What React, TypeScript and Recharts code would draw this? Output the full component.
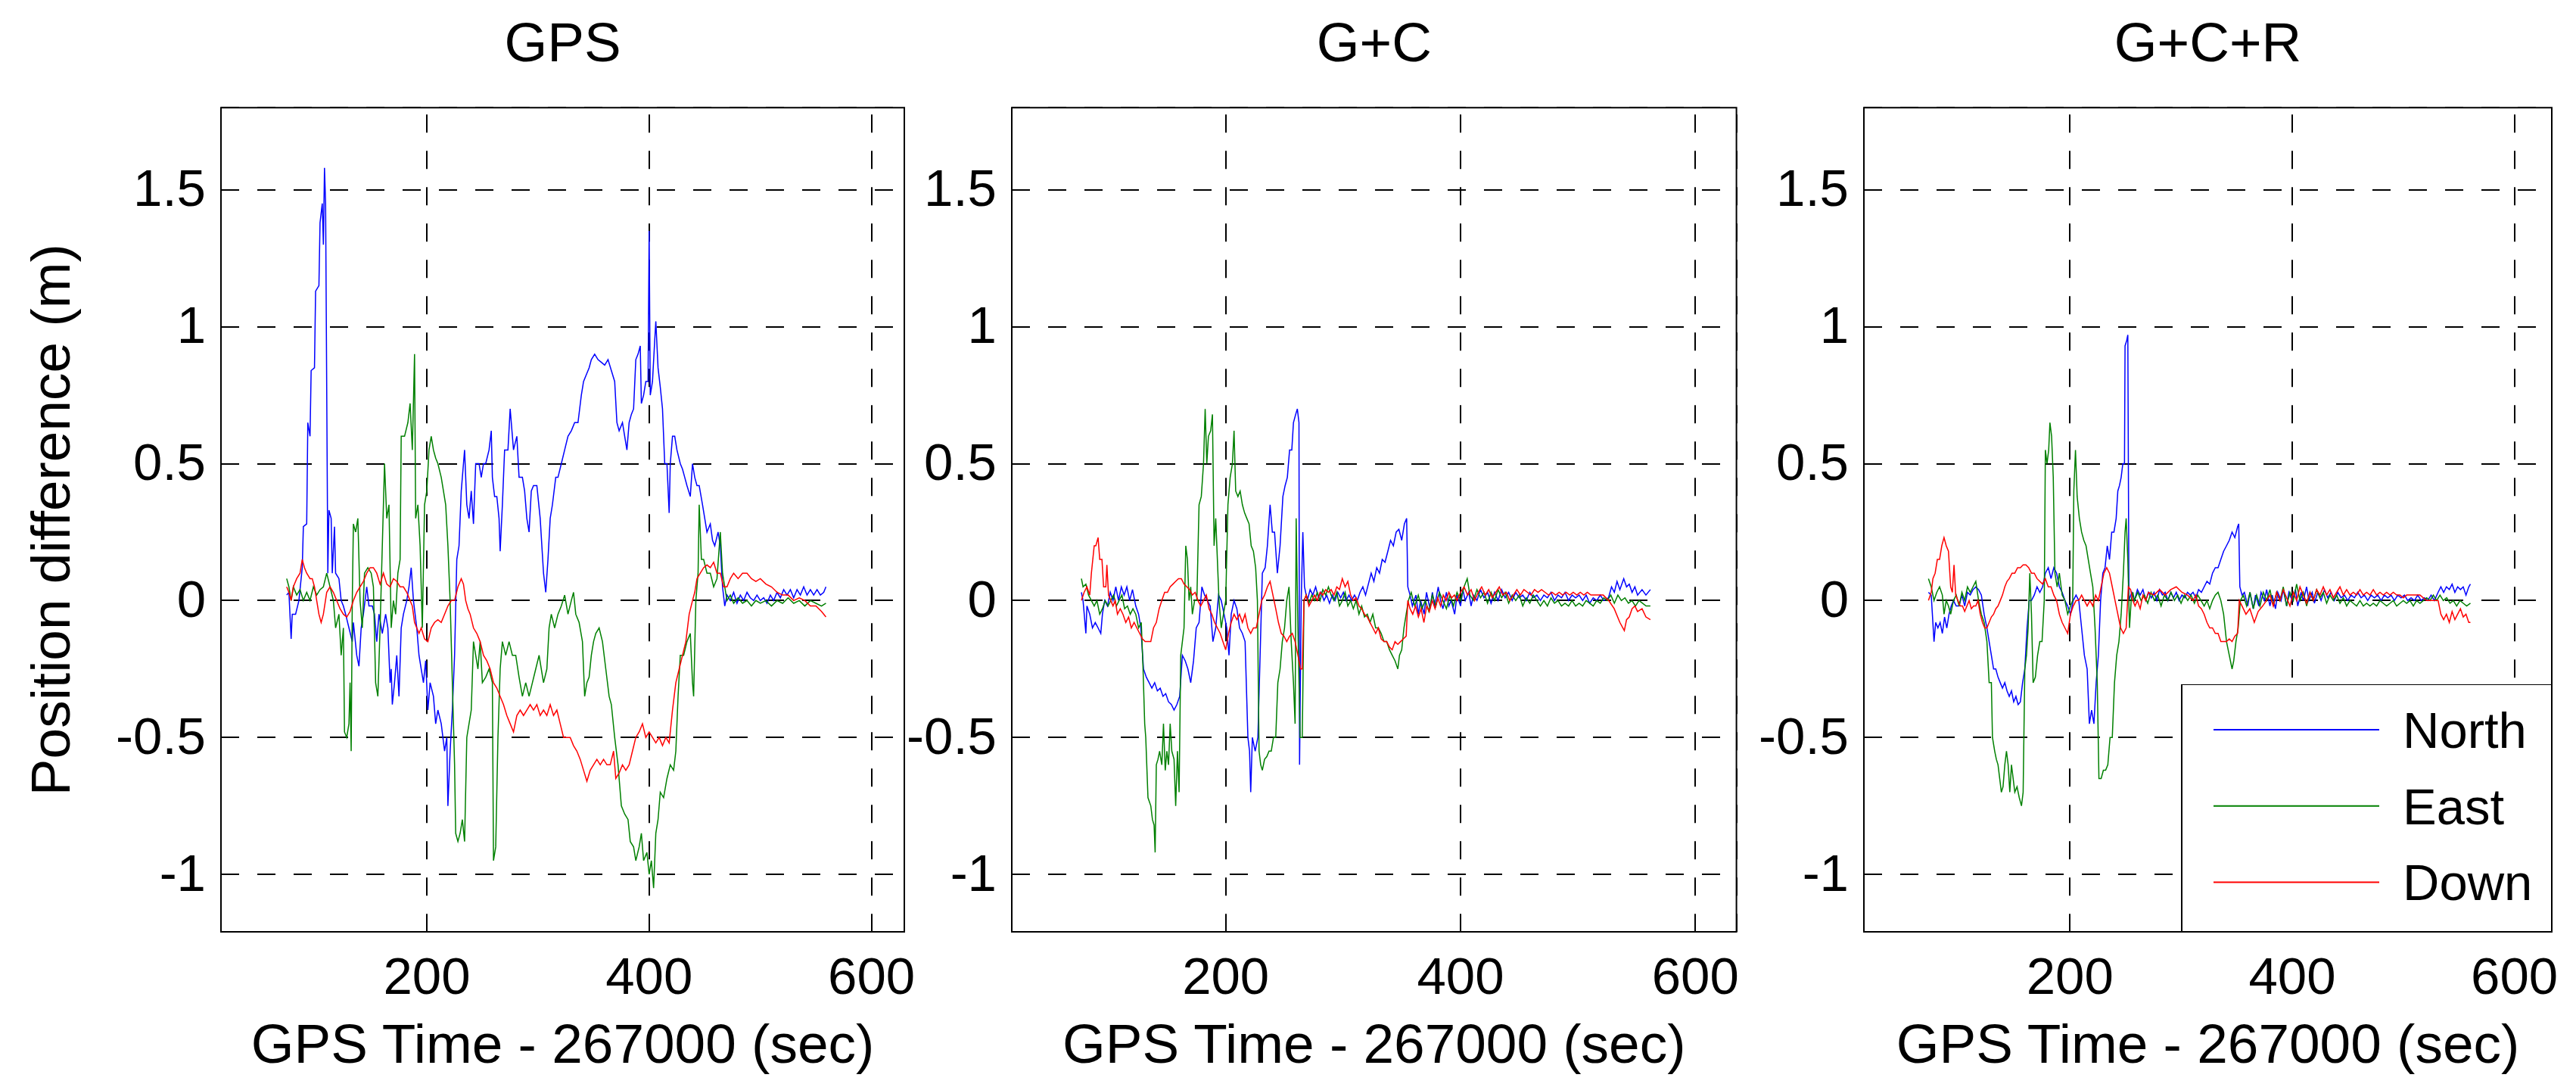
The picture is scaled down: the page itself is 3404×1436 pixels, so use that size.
import React from 'react';
import { CartesianGrid, Label, Legend, Line, LineChart, ReferenceArea, XAxis, YAxis } from 'recharts';

type Pt = [number, number]; // [GPS time - 267000 (s), position difference (m)]

const panelTitles = ['GPS', 'G+C', 'G+C+R'];
const seriesNames = ['North', 'East', 'Down'];
const seriesColors = ['#0000ff', '#008000', '#ff0000'];
const xTicks = [200, 400, 600];
const yTicks = [-1, -0.5, 0, 0.5, 1, 1.5];
const yDomain: [number, number] = [-1.21, 1.8];

// ---- GPS only ----
const gpsNorth: Pt[] = [
  [74,0.02],[76,0.03],[78,-0.14],[79,-0.05],[82,-0.05],[85,0.0],[88,0.12],[89,0.27],[92,0.28],[93,0.65],[95,0.6],[96,0.84],[99,0.85],[100,1.13],[103,1.15],[104,1.38],[106,1.45],[107,1.3],[108,1.58],[109,1.45],[111,0.1],[112,0.33],[114,0.3],[115,0.1],[117,0.27],[118,0.1],[121,0.08],[123,0.0],[125,-0.02],[127,-0.05],[130,-0.1],[133,-0.15],[134,-0.08],[137,-0.2],[139,-0.24],[141,-0.1],[143,-0.05],[146,0.05],[148,-0.02],[151,-0.02],[153,-0.05],[155,-0.15],[157,-0.05],[160,-0.12],[163,-0.05],[165,-0.1],[167,-0.3],[168,-0.25],[169,-0.38],[171,-0.3],[173,-0.2],[175,-0.35],[177,-0.1],[179,-0.05],[182,0.0],[184,0.05],[186,0.12],[188,0.0],[191,-0.1],[193,-0.2],[195,-0.25],[197,-0.3],[199,-0.22],[201,-0.4],[203,-0.3],[206,-0.35],[208,-0.45],[210,-0.4],[213,-0.45],[216,-0.55],[218,-0.5],[219,-0.75],[221,-0.55],[223,-0.4],[225,-0.2],[227,0.15],[229,0.2],[231,0.4],[233,0.5],[234,0.55],[236,0.35],[238,0.3],[240,0.4],[242,0.28],[244,0.5],[247,0.5],[249,0.45],[251,0.5],[253,0.5],[256,0.55],[258,0.62],[259,0.45],[261,0.38],[263,0.38],[265,0.3],[266,0.18],[268,0.35],[270,0.55],[273,0.55],[275,0.7],[276,0.65],[278,0.55],[281,0.6],[283,0.45],[286,0.45],[288,0.4],[290,0.3],[292,0.25],[294,0.4],[296,0.42],[299,0.42],[302,0.3],[305,0.1],[307,0.03],[309,0.15],[311,0.3],[313,0.35],[316,0.45],[318,0.45],[321,0.5],[324,0.55],[327,0.6],[330,0.62],[333,0.65],[336,0.65],[339,0.75],[341,0.8],[343,0.82],[346,0.85],[348,0.88],[351,0.9],[354,0.88],[357,0.87],[360,0.86],[363,0.88],[366,0.84],[369,0.8],[371,0.65],[373,0.62],[376,0.65],[378,0.6],[380,0.55],[382,0.65],[384,0.68],[386,0.7],[388,0.88],[390,0.9],[392,0.93],[393,0.72],[395,0.75],[397,0.8],[399,0.8],[400,1.35],[401,0.75],[403,0.8],[405,0.95],[406,1.02],[408,0.85],[410,0.78],[412,0.7],[414,0.5],[416,0.5],[418,0.32],[419,0.5],[421,0.6],[423,0.6],[425,0.55],[428,0.5],[430,0.48],[432,0.45],[434,0.42],[437,0.38],[439,0.5],[441,0.45],[443,0.42],[445,0.42],[448,0.35],[450,0.3],[452,0.25],[455,0.28],[457,0.22],[459,0.2],[462,0.25],[464,0.2],[466,0.05],[468,-0.02],[470,0.02],[473,0.0],[476,0.03],[479,-0.01],[482,0.02],[485,0.0],[488,0.03],[491,0.01],[494,0.0],[497,0.02],[500,0.0],[503,0.01],[506,-0.01],[509,0.02],[512,0.0],[515,0.03],[518,0.01],[521,0.04],[524,0.02],[527,0.04],[530,0.01],[533,0.04],[536,0.02],[539,0.05],[542,0.02],[545,0.04],[548,0.02],[551,0.04],[554,0.02],[557,0.03],[559,0.05],
];
const gpsEast: Pt[] = [
  [74,0.08],[76,0.05],[78,0.0],[80,0.05],[83,0.02],[86,0.04],[89,0.0],[92,0.03],[95,0.0],[98,0.05],[101,0.02],[104,0.04],[107,0.05],[110,0.1],[113,0.05],[116,0.0],[118,-0.1],[121,-0.05],[123,-0.2],[125,-0.1],[126,-0.48],[128,-0.5],[130,-0.45],[131,-0.3],[132,-0.55],[133,0.0],[134,0.28],[136,0.25],[138,0.3],[140,0.0],[142,-0.1],[144,0.1],[147,0.12],[150,0.1],[152,0.05],[154,-0.3],[156,-0.35],[158,-0.1],[160,0.2],[162,0.5],[164,0.3],[166,0.35],[168,-0.1],[170,0.0],[172,-0.05],[174,0.1],[176,0.15],[177,0.6],[180,0.6],[183,0.65],[185,0.72],[187,0.55],[189,0.9],[190,0.3],[192,0.35],[194,0.2],[196,-0.1],[198,0.35],[200,0.4],[202,0.55],[204,0.6],[206,0.55],[208,0.52],[210,0.5],[213,0.45],[215,0.4],[217,0.35],[219,0.2],[221,0.0],[223,-0.3],[225,-0.6],[226,-0.85],[228,-0.88],[230,-0.85],[232,-0.8],[234,-0.88],[236,-0.5],[238,-0.45],[240,-0.4],[242,-0.15],[244,-0.2],[246,-0.25],[248,-0.15],[250,-0.3],[253,-0.28],[256,-0.25],[259,-0.3],[260,-0.95],[262,-0.9],[264,-0.5],[266,-0.25],[268,-0.15],[271,-0.2],[274,-0.15],[277,-0.2],[280,-0.2],[283,-0.28],[286,-0.35],[289,-0.3],[292,-0.35],[295,-0.3],[298,-0.25],[301,-0.2],[303,-0.25],[305,-0.3],[308,-0.25],[310,-0.1],[312,-0.05],[315,-0.1],[318,-0.05],[321,-0.02],[324,0.02],[327,-0.05],[330,0.0],[332,0.03],[334,-0.05],[337,-0.08],[340,-0.15],[342,-0.35],[344,-0.3],[346,-0.28],[348,-0.2],[350,-0.15],[352,-0.12],[355,-0.1],[358,-0.15],[361,-0.25],[364,-0.35],[366,-0.38],[369,-0.5],[372,-0.6],[375,-0.75],[378,-0.78],[381,-0.8],[383,-0.88],[386,-0.9],[388,-0.95],[391,-0.9],[393,-0.85],[395,-0.95],[398,-0.92],[400,-1.0],[402,-0.95],[404,-1.05],[406,-0.85],[408,-0.8],[410,-0.7],[413,-0.72],[416,-0.65],[419,-0.6],[422,-0.62],[424,-0.55],[426,-0.35],[428,-0.2],[431,-0.2],[434,-0.15],[437,-0.12],[439,-0.3],[440,-0.35],[442,0.0],[444,0.1],[445,0.35],[447,0.15],[449,0.15],[452,0.1],[455,0.1],[458,0.05],[461,0.08],[464,0.25],[466,0.1],[468,0.05],[470,0.0],[473,0.02],[476,-0.01],[480,0.01],[484,-0.01],[488,0.0],[492,-0.02],[496,0.0],[500,-0.01],[505,0.0],[510,-0.02],[515,0.0],[520,-0.01],[525,0.01],[530,-0.01],[535,0.0],[540,-0.02],[545,0.0],[550,-0.01],[555,-0.02],[559,-0.01],
];
const gpsDown: Pt[] = [
  [74,0.05],[76,0.03],[78,0.0],[80,0.05],[83,0.08],[86,0.1],[88,0.15],[90,0.12],[92,0.1],[95,0.08],[97,0.08],[99,0.05],[101,0.0],[103,-0.05],[105,-0.08],[107,-0.05],[110,0.03],[113,0.05],[116,0.03],[119,0.0],[122,-0.03],[125,-0.05],[128,-0.06],[131,-0.04],[134,0.0],[137,0.03],[140,0.05],[143,0.07],[146,0.1],[149,0.12],[152,0.12],[155,0.1],[158,0.06],[161,0.1],[164,0.06],[167,0.05],[170,0.08],[173,0.07],[176,0.05],[179,0.05],[182,0.03],[185,0.0],[187,-0.02],[189,-0.08],[191,-0.1],[193,-0.12],[195,-0.1],[198,-0.14],[201,-0.15],[204,-0.1],[207,-0.08],[210,-0.07],[213,-0.08],[216,-0.05],[219,-0.02],[222,0.0],[225,0.0],[228,0.05],[231,0.08],[233,0.06],[235,0.0],[237,-0.03],[239,-0.05],[242,-0.1],[245,-0.12],[248,-0.15],[251,-0.2],[254,-0.22],[257,-0.25],[260,-0.3],[263,-0.32],[266,-0.35],[269,-0.38],[272,-0.42],[275,-0.45],[278,-0.48],[281,-0.42],[284,-0.4],[287,-0.42],[290,-0.4],[293,-0.38],[296,-0.4],[299,-0.38],[302,-0.42],[305,-0.4],[308,-0.42],[311,-0.38],[314,-0.42],[317,-0.4],[320,-0.45],[323,-0.5],[326,-0.5],[329,-0.5],[332,-0.53],[335,-0.55],[338,-0.58],[341,-0.62],[344,-0.66],[347,-0.62],[350,-0.6],[353,-0.58],[356,-0.6],[359,-0.58],[362,-0.6],[365,-0.6],[368,-0.55],[370,-0.65],[373,-0.63],[376,-0.6],[379,-0.62],[382,-0.6],[385,-0.55],[388,-0.5],[391,-0.48],[394,-0.45],[397,-0.5],[400,-0.48],[403,-0.5],[406,-0.52],[409,-0.5],[412,-0.53],[415,-0.5],[418,-0.52],[421,-0.4],[424,-0.3],[427,-0.25],[430,-0.2],[433,-0.15],[436,-0.05],[439,0.0],[441,0.03],[443,0.08],[446,0.1],[449,0.12],[452,0.13],[455,0.12],[458,0.14],[461,0.1],[464,0.1],[467,0.05],[470,0.05],[473,0.08],[476,0.1],[480,0.08],[484,0.1],[488,0.1],[492,0.08],[496,0.07],[500,0.08],[505,0.06],[510,0.05],[515,0.03],[520,0.02],[525,0.02],[530,0.0],[535,0.01],[540,0.0],[545,-0.02],[550,-0.02],[555,-0.04],[559,-0.06],
];

// ---- GPS + Compass ----
const gcNorth: Pt[] = [
  [77.1,0.03],[78.5,0.0],[80.9,-0.12],[81.8,-0.02],[84.2,-0.05],[86.5,-0.1],[88.9,-0.08],[91.3,-0.1],[93.6,-0.12],[95,-0.05],[96.9,0.0],[99.3,-0.02],[101.7,0.03],[104,0.0],[106.4,0.05],[108.7,0.0],[111.1,0.05],[113.5,0.02],[115.8,0.05],[118.2,0.0],[120.6,0.04],[123.4,-0.02],[125.8,-0.05],[127.7,-0.1],[130,-0.25],[132.4,-0.28],[134.8,-0.3],[137.1,-0.32],[139.5,-0.3],[141.8,-0.33],[144.2,-0.32],[146.6,-0.35],[148.9,-0.34],[151.3,-0.37],[153.7,-0.38],[156,-0.4],[158.4,-0.38],[160.8,-0.35],[163.1,-0.2],[165.5,-0.22],[167.8,-0.25],[170.2,-0.3],[172.6,-0.22],[174.9,-0.1],[177.3,-0.08],[179.7,0.05],[182,0.02],[184.4,0.0],[186.8,-0.02],[189.1,-0.15],[191.5,-0.1],[193.9,0.02],[196.2,0.0],[198.6,-0.05],[200.9,-0.1],[202.8,-0.2],[204.7,-0.05],[207.1,0.0],[209.5,-0.03],[211.8,-0.1],[214.2,-0.12],[216.5,-0.15],[218.9,-0.5],[220.3,-0.55],[221.3,-0.7],[222.7,-0.5],[225.1,-0.55],[227.4,-0.5],[229.3,-0.2],[231.2,0.1],[233.6,0.12],[235.5,0.2],[237.8,0.35],[239.7,0.25],[241.6,0.25],[244,0.1],[246.3,0.2],[248.7,0.38],[250.6,0.42],[252.5,0.45],[254.4,0.55],[256.3,0.55],[257.7,0.65],[259.6,0.68],[261,0.7],[262.4,0.65],[262.9,-0.6],[264.3,0.0],[265.7,0.25],[267.1,0.05],[269.5,0.0],[271.9,0.04],[274.2,0.02],[276.6,0.05],[279,0.01],[281.3,0.03],[283.7,0.0],[286,0.02],[288.4,-0.01],[290.8,0.02],[293.1,0.0],[295.5,0.03],[297.9,0.01],[300.2,0.03],[302.6,0.0],[305,0.02],[307.3,0.0],[309.7,0.02],[312.1,0.0],[314.4,0.03],[316.8,0.05],[319.1,0.02],[321.5,0.06],[323.9,0.1],[326.2,0.07],[328.6,0.12],[331,0.1],[333.3,0.15],[335.7,0.14],[338.1,0.18],[340.4,0.22],[342.8,0.2],[345.2,0.25],[347.5,0.26],[349.9,0.22],[352.2,0.28],[354.1,0.3],[355.1,0.05],[357,0.02],[359,-0.02],[362,0.02],[364,-0.05],[366,0.0],[369,-0.05],[371,0.03],[374,-0.03],[376,0.03],[378,-0.02],[381,0.05],[383,0.0],[385,-0.03],[388,0.03],[390,-0.02],[392,0.0],[395,-0.05],[397,0.02],[400,-0.02],[402,0.04],[404,0.0],[407,0.03],[409,-0.02],[411,0.02],[414,0.0],[417,0.04],[420,0.01],[423,0.03],[426,-0.01],[429,0.03],[432,0.0],[435,0.04],[438,0.01],[441,0.03],[444,0.0],[447,0.03],[450,0.01],[453,0.02],[456,0.0],[459,0.03],[462,0.01],[465,0.02],[468,0.0],[471,0.02],[474,0.01],[477,0.03],[480,0.0],[483,0.02],[486,0.01],[489,0.03],[492,0.0],[495,0.02],[498,0.01],[501,0.02],[504,0.0],[507,0.02],[510,-0.01],[513,0.01],[516,0.0],[519,0.02],[522,0.0],[526,0.01],[528.6,0.05],[531,0.03],[533.3,0.07],[535.7,0.04],[539,0.08],[541.4,0.05],[543.7,0.06],[546.1,0.03],[548.5,0.05],[550.8,0.02],[554.6,0.04],[557.9,0.02],[561.7,0.04],
];
const gcEast: Pt[] = [
  [77.1,0.08],[78.5,0.05],[80.9,0.06],[83.2,0.02],[85.6,0.0],[88,-0.02],[90.3,0.0],[92.7,-0.05],[95,-0.03],[97.4,0.0],[99.8,-0.02],[102.1,0.0],[104.5,0.02],[106.9,-0.02],[109.2,0.0],[111.6,0.02],[113.9,-0.03],[116.3,-0.02],[118.7,-0.05],[121,-0.03],[123.4,-0.05],[125.8,-0.1],[128.1,-0.08],[129.6,-0.25],[131,-0.45],[131.9,-0.5],[133.8,-0.72],[136.2,-0.75],[137.6,-0.8],[139,-0.82],[139.9,-0.92],[140.9,-0.6],[142.3,-0.58],[143.7,-0.55],[145.6,-0.6],[147,-0.45],[148.5,-0.62],[149.9,-0.55],[151.3,-0.6],[152.7,-0.45],[154.1,-0.55],[156,-0.58],[157.4,-0.75],[158.9,-0.55],[160.3,-0.7],[161.7,-0.2],[163.1,-0.15],[164.5,-0.1],[166,0.2],[167.4,0.15],[168.8,0.0],[170.2,0.05],[171.6,-0.05],[173.5,0.0],[175.4,0.0],[177.3,0.35],[179.2,0.38],[181.1,0.5],[182.5,0.7],[183.9,0.5],[185.3,0.6],[187.2,0.62],[188.7,0.68],[190.1,0.2],[191.5,0.3],[192.9,0.15],[194.3,0.0],[196.2,-0.1],[198.1,-0.05],[200,0.0],[201.9,0.35],[203.8,0.45],[205.7,0.5],[207.1,0.62],[208.5,0.4],[210.4,0.38],[212.3,0.4],[214.2,0.35],[216.1,0.32],[218,0.3],[219.9,0.28],[221.7,0.2],[223.6,0.18],[225.5,0.12],[227,0.0],[228.4,-0.55],[229.8,-0.6],[231.2,-0.62],[233.1,-0.58],[235,-0.57],[236.9,-0.55],[238.8,-0.55],[240.7,-0.5],[242.6,-0.5],[244.4,-0.3],[246.3,-0.25],[248.2,-0.15],[250.1,-0.1],[252,0.0],[253.9,0.05],[255.8,-0.15],[257.7,-0.3],[259.1,-0.45],[260,0.3],[261.5,-0.1],[263.4,-0.5],[265.2,-0.5],[266.7,0.0],[268.6,0.02],[270.9,-0.01],[273.3,0.02],[275.7,0.0],[278,0.03],[280.4,0.0],[282.7,0.04],[285.1,0.02],[287.5,0.05],[289.8,0.02],[292.2,0.0],[294.6,0.03],[296.9,-0.02],[299.3,0.0],[301.7,0.03],[304,-0.02],[306.4,0.0],[308.7,-0.03],[311.1,0.0],[313.5,-0.05],[315.8,-0.02],[318.2,-0.06],[320.6,-0.05],[322.9,-0.08],[325.3,-0.05],[327.7,-0.1],[330,-0.1],[332.4,-0.12],[334.8,-0.15],[337.1,-0.15],[339.5,-0.18],[341.8,-0.2],[344.2,-0.22],[346.6,-0.25],[348,-0.2],[349.9,-0.18],[351.8,-0.1],[353.7,-0.05],[355.6,0.0],[358,0.03],[361,-0.02],[364,0.02],[367,-0.03],[370,0.0],[373,-0.04],[376,0.02],[379,-0.02],[382,0.03],[385,0.0],[388,-0.03],[391,0.02],[394,-0.02],[397,0.03],[400,0.0],[403,0.05],[405.7,0.08],[408,0.02],[411,0.0],[414,0.04],[417,0.01],[420,0.03],[423,-0.01],[426,0.03],[429,0.0],[432,0.04],[435,0.01],[438,0.03],[441,-0.01],[444,0.02],[447,0.0],[450,0.02],[453,-0.02],[456,0.01],[459,-0.01],[462,0.02],[465,0.0],[468,-0.02],[471,0.0],[474,-0.02],[477,0.01],[480,-0.01],[483,0.0],[486,-0.02],[489,-0.01],[492,-0.02],[495,0.0],[498,-0.02],[501,-0.01],[504,-0.02],[507,0.0],[510,-0.01],[513,-0.02],[516,0.0],[519,-0.01],[522,0.01],[525,0.0],[528,0.02],[531,-0.01],[534,0.02],[537,0.0],[540,0.01],[543,-0.01],[546,0.0],[549,-0.02],[552,0.0],[555,-0.01],[558,-0.02],[561.7,-0.02],
];
const gcDown: Pt[] = [
  [77.1,0.0],[79.4,0.03],[81.8,0.05],[84.2,0.02],[85.6,0.1],[88,0.2],[89.4,0.2],[91.3,0.23],[92.7,0.15],[94.6,0.15],[96,0.05],[97.9,0.05],[98.8,0.13],[100.2,0.02],[102.1,0.0],[104,-0.02],[105.9,0.0],[107.8,-0.05],[110.2,-0.03],[112.5,-0.05],[114.9,-0.08],[117.3,-0.06],[119.6,-0.1],[122,-0.08],[124.3,-0.1],[126.7,-0.12],[129.1,-0.14],[131.4,-0.15],[133.8,-0.15],[136.2,-0.15],[138.5,-0.1],[140.9,-0.08],[143.3,-0.03],[145.6,0.0],[148,0.03],[150.4,0.03],[152.7,0.05],[155.1,0.06],[157.4,0.07],[159.8,0.08],[162.2,0.08],[164.5,0.06],[166.9,0.05],[169.3,0.04],[171.6,0.02],[174,0.03],[176.4,0.0],[178.7,-0.02],[181.1,0.0],[183.5,0.02],[185.8,-0.03],[188.2,-0.05],[190.5,-0.08],[192.9,-0.1],[195.3,-0.12],[197.6,-0.15],[200,-0.18],[202.4,-0.12],[204.7,-0.08],[207.1,-0.05],[209.5,-0.07],[211.8,-0.05],[214.2,-0.08],[216.5,-0.05],[218.9,-0.1],[221.3,-0.12],[223.6,-0.1],[226,-0.1],[228.4,-0.05],[230.7,0.0],[233.1,0.02],[235.5,0.05],[237.8,0.07],[240.2,0.02],[242.6,-0.03],[244.9,-0.08],[247.3,-0.12],[249.6,-0.13],[252,-0.15],[254.4,-0.13],[256.7,-0.12],[259.1,-0.15],[261.5,-0.2],[263.8,-0.25],[265.2,-0.25],[266.7,0.0],[268.6,0.02],[270.9,-0.02],[273.3,0.0],[275.7,0.02],[278,0.0],[280.4,0.03],[282.7,0.02],[285.1,0.04],[287.5,0.03],[289.8,0.04],[292.2,0.02],[294.6,0.05],[296.9,0.04],[299.3,0.08],[301.7,0.05],[304,0.07],[306.4,0.02],[308.7,0.0],[311.1,0.01],[313.5,-0.02],[315.8,-0.03],[318.2,-0.05],[320.6,-0.06],[322.9,-0.08],[325.3,-0.1],[327.7,-0.12],[330,-0.1],[332.4,-0.14],[334.8,-0.15],[337.1,-0.15],[339.5,-0.17],[341.8,-0.18],[344.2,-0.15],[346.6,-0.16],[348.9,-0.15],[351.3,-0.14],[353.7,-0.13],[355.1,0.0],[357,-0.03],[359.3,-0.05],[361.7,-0.02],[364.1,-0.06],[366.4,-0.03],[368.8,-0.08],[371.2,-0.02],[373.5,-0.04],[375.9,0.0],[378.3,-0.03],[380.6,0.01],[383,-0.02],[385.3,0.02],[387.7,0.0],[390.1,0.03],[392.4,0.01],[394.8,0.02],[397,0.0],[400,0.03],[403,0.05],[406,0.02],[409,0.04],[412,0.0],[415,0.03],[418,0.05],[421,0.02],[424,0.04],[427,0.01],[430,0.03],[433,0.05],[436,0.02],[439,0.03],[442,0.0],[445,0.02],[448,0.04],[451,0.02],[454,0.04],[457,0.03],[460,0.02],[463,0.04],[466,0.03],[469,0.04],[472,0.03],[475,0.02],[478,0.03],[481,0.02],[484,0.03],[487,0.02],[490,0.03],[493,0.02],[496,0.03],[499,0.02],[502,0.03],[505,0.02],[508,0.03],[511,0.02],[514,0.02],[517,0.02],[521.5,0.02],[526.2,0.0],[530.9,-0.03],[535.7,-0.08],[539.5,-0.11],[541.4,-0.07],[543.7,-0.06],[546.1,-0.03],[548.5,-0.02],[550.8,-0.04],[554.6,-0.03],[557.9,-0.06],[561.7,-0.07],
];

// ---- GPS + Compass + GLONASS ----
const gcrNorth: Pt[] = [
  [72.7,0.03],[75.2,0.02],[77.7,-0.15],[79.2,-0.08],[81.2,-0.1],[83.2,-0.08],[85.2,-0.12],[87.2,-0.06],[89.2,-0.1],[91.2,-0.05],[93.2,-0.02],[95.2,0.0],[97.7,-0.02],[100.3,-0.02],[102.8,0.02],[105.3,-0.02],[107.8,0.03],[110.3,0.02],[112.8,0.04],[115.3,0.05],[117.8,0.04],[120.3,0.02],[122.8,-0.05],[125.3,-0.1],[127.3,-0.15],[129.3,-0.2],[131.3,-0.25],[133.3,-0.25],[135.3,-0.28],[137.3,-0.3],[139.3,-0.32],[141.4,-0.3],[143.4,-0.33],[145.4,-0.35],[147.4,-0.33],[149.4,-0.37],[151.4,-0.35],[153.4,-0.38],[155.4,-0.37],[157.4,-0.3],[159.4,-0.25],[161.4,-0.1],[163.4,0.0],[165.4,0.0],[167.9,0.02],[170.4,0.05],[172.9,0.03],[175.4,0.05],[177.9,0.1],[180.5,0.12],[183,0.08],[185.5,0.12],[188,0.1],[190.5,0.05],[193,0.03],[195.5,0.0],[198,-0.02],[200.5,-0.05],[203,0.0],[205.5,0.02],[208,0.0],[210.5,-0.1],[213,-0.2],[215.5,-0.25],[217.5,-0.45],[219.5,-0.4],[221.6,-0.45],[223.6,-0.3],[225.6,-0.2],[227.6,0.0],[229.6,0.1],[231.6,0.12],[233.6,0.2],[235.6,0.15],[237.6,0.25],[239.6,0.25],[241.6,0.3],[243.1,0.4],[244.6,0.42],[246.1,0.45],[247.6,0.5],[249.1,0.5],[249.6,0.93],[251.1,0.95],[252.1,0.97],[253.1,0.0],[255.6,0.03],[258.1,0.0],[260.7,0.04],[263.2,0.02],[265.7,0.04],[268.2,0.0],[270.7,0.03],[273.2,0.01],[275.7,0.03],[278.2,0.0],[280.7,0.04],[283.2,0.02],[285.7,0.03],[288.2,0.0],[290.7,0.03],[293.2,0.01],[295.7,0.03],[298.2,0.0],[300.8,0.02],[303.3,0.01],[305.8,0.03],[308.3,0.02],[310.8,0.03],[313.3,0.01],[315.8,0.04],[318.3,0.03],[320.8,0.05],[323.3,0.07],[325.8,0.06],[328.3,0.1],[330.8,0.12],[333.3,0.12],[335.8,0.15],[338.3,0.18],[340.9,0.2],[343.4,0.22],[345.9,0.25],[348.4,0.23],[350.9,0.27],[351.9,0.28],[352.9,0.05],[354.9,0.02],[357,0.03],[360,-0.02],[362,0.03],[365,-0.03],[367,0.02],[370,-0.02],[372,0.03],[375,0.0],[377,0.04],[380,-0.02],[382,0.02],[385,-0.03],[387,0.03],[390,0.0],[392,0.04],[395,-0.02],[397,0.03],[400,0.0],[403,0.04],[405,-0.02],[408,0.03],[410,0.0],[413,0.05],[415,0.0],[418,0.03],[420,-0.01],[423,0.03],[426,0.0],[429,0.04],[432,0.01],[435,0.03],[438,0.0],[441,0.03],[444,0.01],[447,0.02],[450,0.0],[453,0.02],[456,0.01],[459,0.03],[462,0.01],[465,0.02],[468,0.0],[471,0.02],[474,0.01],[477,0.02],[480,0.0],[483,0.02],[486,0.01],[489,0.02],[492,0.0],[495,0.02],[498,0.01],[501,0.02],[504,0.0],[507,0.01],[510,0.0],[513,0.02],[516,0.0],[519,0.01],[522,0.0],[525,0.02],[528,0.0],[531.3,0.03],[533.8,0.05],[536.3,0.03],[538.8,0.05],[541.4,0.04],[543.9,0.06],[546.4,0.03],[548.9,0.05],[551.4,0.04],[553.9,0.05],[556.4,0.02],[558.9,0.05],[560.4,0.06],
];
const gcrEast: Pt[] = [
  [72.7,0.08],[75.2,0.05],[77.7,0.0],[80.2,0.03],[82.7,0.05],[85.2,0.02],[86.7,-0.05],[88.7,0.0],[90.7,-0.02],[92.7,-0.05],[95.2,0.0],[97.7,0.02],[100.3,-0.02],[102.8,0.03],[105.3,0.0],[107.8,0.05],[110.3,0.03],[112.8,0.05],[115.3,0.07],[117.8,0.0],[120.3,-0.05],[122.8,-0.08],[125.3,-0.15],[127.3,-0.3],[129.3,-0.3],[130.3,-0.5],[132.3,-0.55],[133.8,-0.58],[135.3,-0.6],[136.8,-0.65],[138.3,-0.7],[139.8,-0.68],[141.4,-0.6],[142.9,-0.55],[144.4,-0.6],[145.9,-0.7],[147.4,-0.6],[148.9,-0.65],[150.4,-0.7],[152.4,-0.68],[154.4,-0.72],[156.4,-0.75],[157.9,-0.7],[159.4,-0.25],[160.9,-0.2],[162.4,-0.1],[163.9,0.1],[165.4,-0.05],[166.9,-0.3],[168.9,-0.28],[170.9,-0.2],[172.9,-0.15],[174.9,-0.15],[176.9,0.0],[177.9,0.55],[179.4,0.5],[180.9,0.55],[182,0.65],[183.5,0.6],[185,0.45],[186.5,0.1],[188.5,0.05],[190.5,0.1],[193,0.02],[195.5,0.0],[198,-0.05],[200.5,-0.02],[202.5,0.0],[203.5,0.4],[205,0.55],[206.5,0.38],[208.5,0.3],[210.5,0.25],[212.5,0.22],[214.5,0.2],[216.5,0.15],[218.5,0.1],[220.6,0.05],[222.6,-0.1],[224.6,-0.3],[226.1,-0.65],[228.1,-0.65],[230.1,-0.62],[232.1,-0.62],[234.1,-0.6],[236.1,-0.5],[238.1,-0.5],[240.1,-0.3],[242.1,-0.2],[244.1,-0.15],[246.1,-0.05],[248.1,0.1],[249.6,0.25],[250.6,0.3],[252.1,0.15],[253.6,-0.1],[255.1,0.0],[256.6,0.03],[258,0.0],[261,0.03],[264,0.0],[267,0.02],[270,-0.01],[273,0.03],[276,0.0],[279,0.02],[282,-0.02],[285,0.02],[288,0.0],[291,0.03],[294,0.0],[297,0.02],[300,-0.01],[303,0.02],[306,0.0],[309,0.02],[312,-0.01],[315,0.02],[318,0.0],[320.8,-0.02],[323.3,0.0],[325.8,-0.03],[328.3,0.0],[330.8,0.02],[333.3,0.03],[335.8,0.0],[338.3,-0.05],[340.9,-0.15],[343.4,-0.2],[345.9,-0.25],[347.4,-0.22],[349.4,-0.15],[351.4,-0.1],[353.4,0.0],[356,0.02],[359,-0.02],[362,0.03],[365,-0.03],[368,0.02],[371,-0.02],[374,0.03],[377,0.0],[380,0.04],[383,-0.02],[386,0.03],[389,0.0],[392,0.05],[395,-0.02],[398,0.03],[401,0.0],[404,0.06],[407,0.0],[410,0.03],[413,-0.02],[416,0.03],[419,0.0],[422,0.04],[425,0.01],[428,0.03],[431,-0.01],[434,0.02],[437,0.0],[440,0.02],[443,-0.01],[446,0.01],[449,-0.02],[452,0.0],[455,-0.01],[458,-0.02],[461,0.0],[464,-0.02],[467,-0.01],[470,-0.02],[473,-0.01],[476,-0.02],[479,0.0],[482,-0.01],[485,-0.02],[488,-0.01],[491,0.0],[494,-0.02],[497,-0.01],[500,0.0],[503,-0.01],[506,0.0],[509,-0.02],[512,0.0],[515,-0.01],[518,0.0],[521,0.01],[524,0.0],[527,0.02],[530,0.0],[533,0.02],[536,0.0],[539,0.01],[542,-0.01],[545,0.0],[548,-0.02],[551,0.0],[554,-0.01],[557,-0.02],[560.4,-0.01],
];
const gcrDown: Pt[] = [
  [72.7,0.0],[75.2,0.03],[76.7,0.08],[78.7,0.1],[80.7,0.15],[82.7,0.15],[84.7,0.2],[86.7,0.23],[88.7,0.2],[90.7,0.18],[92.7,0.05],[94.2,0.03],[95.7,0.13],[97.2,0.02],[99.2,0.0],[101.3,-0.02],[103.3,-0.02],[105.3,-0.04],[107.3,-0.02],[109.3,0.0],[111.3,-0.03],[113.3,-0.02],[115.3,-0.02],[117.3,0.0],[119.3,-0.05],[121.3,-0.08],[123.3,-0.1],[125.3,-0.1],[127.3,-0.08],[129.3,-0.06],[131.3,-0.05],[133.3,-0.03],[135.3,-0.02],[137.3,0.0],[139.3,0.02],[141.4,0.05],[143.4,0.07],[145.4,0.08],[147.9,0.1],[150.4,0.1],[152.9,0.12],[155.4,0.12],[157.9,0.13],[160.4,0.13],[162.9,0.12],[165.4,0.1],[167.9,0.1],[170.4,0.08],[172.9,0.07],[175.4,0.06],[177.9,0.08],[180.5,0.05],[183,0.05],[185.5,0.02],[188,0.0],[190.5,-0.05],[193,-0.08],[195.5,-0.1],[198,-0.12],[200.5,-0.05],[203,-0.02],[205.5,0.0],[208,0.0],[210.5,0.02],[213,0.0],[215.5,-0.02],[218,0.0],[220.6,-0.02],[223.1,0.02],[225.6,0.0],[228.1,0.05],[230.6,0.1],[233.1,0.12],[235.6,0.1],[238.1,0.05],[240.6,0.0],[243.1,-0.05],[245.6,-0.1],[248.1,-0.12],[250.6,-0.1],[252.6,0.05],[254.6,0.04],[256.6,0.0],[258.6,-0.02],[260.7,0.0],[263.2,-0.03],[265.7,0.02],[268.2,0.0],[270.7,0.03],[275.7,0.02],[280.7,0.04],[285.7,0.02],[290.7,0.04],[295.7,0.05],[300.8,0.03],[305.8,0.02],[310.8,0.0],[313.3,0.02],[315.8,-0.02],[318.3,-0.03],[320.8,-0.05],[323.3,-0.08],[325.8,-0.1],[328.3,-0.1],[330.8,-0.12],[333.3,-0.12],[335.8,-0.15],[338.3,-0.15],[340.9,-0.15],[343.4,-0.14],[345.9,-0.15],[348.4,-0.13],[350.9,-0.12],[352.4,0.0],[354.9,-0.02],[358.4,-0.05],[361.9,-0.03],[365.9,-0.08],[369.4,-0.04],[373.4,-0.02],[376.9,0.0],[380,0.02],[383,-0.02],[386,0.03],[389,0.0],[392,0.04],[395,0.01],[398,-0.02],[401,0.03],[404,0.0],[407,0.05],[410,0.02],[413,-0.01],[416,0.03],[419,0.0],[422,0.04],[425,0.02],[428,0.05],[431,0.02],[434,0.04],[437,0.01],[440,0.03],[443,0.05],[446,0.02],[449,0.04],[452,0.02],[455,0.03],[458,0.02],[461,0.04],[464,0.02],[467,0.03],[470,0.02],[473,0.04],[476,0.02],[479,0.03],[482,0.02],[485,0.03],[488,0.02],[491,0.03],[494,0.02],[497,0.02],[500,0.01],[503,0.02],[506,0.02],[509,0.02],[512,0.02],[515,0.02],[518,0.01],[521,0.0],[524,0.0],[527,0.0],[531.3,0.0],[533.8,-0.05],[536.3,-0.07],[538.8,-0.05],[541.4,-0.08],[543.9,-0.04],[546.4,-0.07],[548.9,-0.05],[551.4,-0.03],[553.9,-0.06],[556.4,-0.05],[558.9,-0.08],[560.4,-0.08],
];

const FONT = '"Liberation Sans", Arial, Helvetica, sans-serif';
const PAGE_H = 1436;
const PLOT_TOP = 142.3;
const PLOT_BOTTOM = 1231;
const RIGHT_PAD = 70;

const panels = [
  { title: panelTitles[0], left: 292, width: 903, xDomain: [14.9, 629.5], axisW: 292, series: [gpsNorth, gpsEast, gpsDown], yLabel: true, legend: false },
  { title: panelTitles[1], left: 1336.7, width: 957.6, xDomain: [17.8, 635], axisW: 200, series: [gcNorth, gcEast, gcDown], yLabel: false, legend: false },
  { title: panelTitles[2], left: 2462.7, width: 909, xDomain: [14.6, 633.6], axisW: 200, series: [gcrNorth, gcrEast, gcrDown], yLabel: false, legend: true },
];

const toRows = (pts: Pt[]) => pts.map(([t, v]) => ({ t, v }));

// MATLAB-style dashed grid, snapped to whole pixels so the dashes stay black
const gridH = (props: any) => {
  const y = Math.round(props.y1);
  return (
    <line key={props.key} x1={props.x1} y1={y} x2={props.x2} y2={y}
      stroke="#000" strokeWidth={2} strokeDasharray="24 24" fill="none" />
  );
};
const gridV = (props: any) => {
  const x = Math.round(props.x1);
  return (
    <line key={props.key} x1={x} y1={props.y1} x2={x} y2={props.y2}
      stroke="#000" strokeWidth={2} strokeDasharray="24 24" strokeDashoffset={39} fill="none" />
  );
};

const XTick = (props: any) => (
  <text x={props.x} y={PLOT_BOTTOM + 82} textAnchor="middle" fontSize={69} fontFamily={FONT} fill="#000">
    {props.payload.value}
  </text>
);
const makeYTick = (axisW: number) => (props: any) => (
  <text x={axisW - 20} y={props.y + 21.5} textAnchor="end" fontSize={69} fontFamily={FONT} fill="#000">
    {props.payload.value}
  </text>
);

// legend box, flush with the bottom-right corner of the last panel
const LEG_W = 489.7;
const LEG_H = PLOT_BOTTOM - 904.3;

const LegendBox = (props: any) => {
  const items = [...(props.payload || [])].sort(
    (a: any, b: any) => seriesNames.indexOf(a.value) - seriesNames.indexOf(b.value)
  );
  return (
    <div style={{ width: LEG_W, height: LEG_H, boxSizing: 'border-box', background: '#fff',
      border: '1px solid #000', borderLeft: '2px solid #000' }}>
      <svg width={LEG_W - 3} height={LEG_H - 2} style={{ display: 'block' }}>
        {items.map((e: any, i: number) => {
          const y = 59 + i * 100.7;
          return (
            <g key={e.value}>
              <line x1={41} x2={260} y1={y} y2={y} stroke={e.color} strokeWidth={2} />
              <text x={291} y={y + 24} fontSize={67} fontFamily={FONT} fill="#000">{e.value}</text>
            </g>
          );
        })}
      </svg>
    </div>
  );
};

function Panel({ p }: { p: (typeof panels)[number] }) {
  const chartLeft = p.left - p.axisW;
  const chartW = p.axisW + p.width + RIGHT_PAD;
  const cx = p.axisW + p.width / 2;
  return (
    <div style={{ position: 'absolute', left: chartLeft, top: 0 }}>
      <LineChart width={chartW} height={PAGE_H} margin={{ top: PLOT_TOP, right: RIGHT_PAD, bottom: 0, left: 0 }}>
        <CartesianGrid horizontal={gridH} vertical={gridV} />
        <XAxis type="number" dataKey="t" domain={p.xDomain} ticks={xTicks} interval={0} allowDataOverflow
          height={PAGE_H - PLOT_BOTTOM} axisLine={false} tickLine={false} tick={XTick}>
          <Label content={() => (
            <text x={cx} y={1404} textAnchor="middle" fontSize={73} fontFamily={FONT} fill="#000">
              GPS Time - 267000 (sec)
            </text>
          )} />
        </XAxis>
        <YAxis type="number" domain={yDomain} ticks={yTicks} interval={0} allowDataOverflow
          width={p.axisW} axisLine={false} tickLine={false} tick={makeYTick(p.axisW)}>
          {p.yLabel && (
            <Label content={() => {
              const cy = (PLOT_TOP + PLOT_BOTTOM) / 2;
              return (
                <text x={92} y={cy} transform={`rotate(-90, 92, ${cy})`} textAnchor="middle"
                  fontSize={73} fontFamily={FONT} fill="#000">
                  Position difference (m)
                </text>
              );
            }} />
          )}
        </YAxis>
        <ReferenceArea x1={p.xDomain[0]} x2={p.xDomain[1]} y1={yDomain[0]} y2={yDomain[1]}
          fill="none" fillOpacity={0} stroke="#000" strokeWidth={2} ifOverflow="visible">
          <Label content={() => (
            <text x={cx} y={81} textAnchor="middle" fontSize={73} fontFamily={FONT} fill="#000">
              {p.title}
            </text>
          )} />
        </ReferenceArea>
        {seriesNames.map((name, i) => (
          <Line key={name} name={name} data={toRows(p.series[i])} dataKey="v" type="linear"
            stroke={seriesColors[i]} strokeWidth={1.5} dot={false} activeDot={false}
            isAnimationActive={false} />
        ))}
        {p.legend && (
          <Legend layout="horizontal" verticalAlign="middle" align="center" content={LegendBox}
            wrapperStyle={{ left: 2882 - chartLeft, top: 904.3, width: LEG_W, height: LEG_H }} />
        )}
      </LineChart>
    </div>
  );
}

export default function App() {
  return (
    <div style={{ position: 'absolute', left: 0, top: 0, width: 3404, height: PAGE_H, background: '#fff', overflow: 'hidden' }}>
      {panels.map((p) => (
        <Panel key={p.title} p={p} />
      ))}
    </div>
  );
}
